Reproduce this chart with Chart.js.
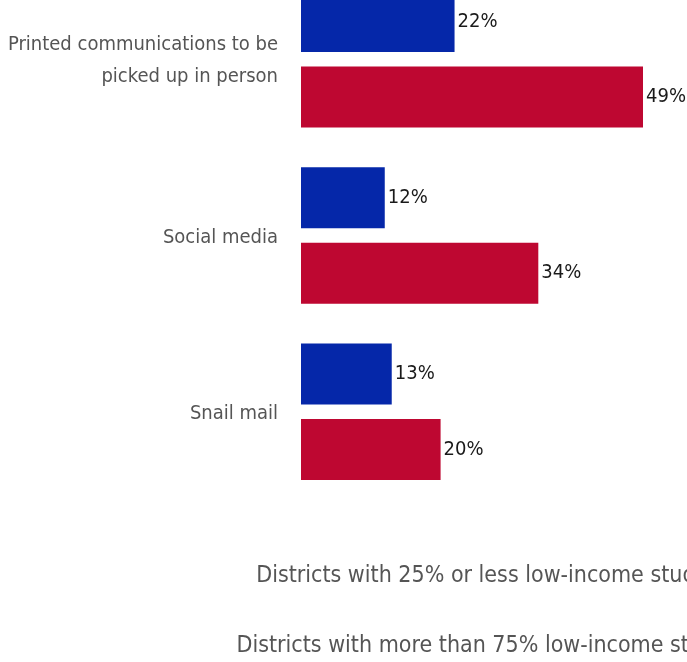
<!DOCTYPE html>
<html>
<head>
<meta charset="utf-8">
<script src="https://cdn.jsdelivr.net/npm/chart.js@4/dist/chart.umd.min.js"></script>
<style>
  html, body { margin: 0; padding: 0; background: #fff; overflow: hidden; width: 687px; height: 662px; }
  #wrap { position: absolute; left: 0; top: -40px; }
</style>
</head>
<body>
<div id="wrap"><canvas id="chart" width="985" height="708"></canvas></div>
<script>
const categories = [
  ["Printed communications to be", "picked up in person"],
  "Social media",
  "Snail mail"
];
const seriesNames = [
  "Districts with 25% or less low-income students",
  "Districts with more than 75% low-income students"
];
const lowIncome25 = [22, 12, 13];
const lowIncome75 = [49, 34, 20];

const FONT = "'Liberation Sans Narrow', 'DejaVu Sans Condensed', 'Open Sans', sans-serif";

// percentage labels just past the end of each bar
const valueLabels = {
  id: 'valueLabels',
  afterDatasetsDraw(chart) {
    const ctx = chart.ctx;
    chart.data.datasets.forEach((ds, i) => {
      chart.getDatasetMeta(i).data.forEach((bar, j) => {
        ctx.save();
        ctx.font = "20px " + FONT;
        ctx.fillStyle = '#1a1a1a';
        ctx.textAlign = 'left';
        ctx.textBaseline = 'middle';
        ctx.fillText(ds.data[j] + '%', bar.x + 3, bar.y);
        ctx.restore();
      });
    });
  }
};

new Chart(document.getElementById('chart'), {
  type: 'bar',
  data: {
    labels: categories,
    datasets: [
      { label: seriesNames[0], data: lowIncome25, backgroundColor: '#0527a9', borderWidth: 0 },
      { label: seriesNames[1], data: lowIncome75, backgroundColor: '#be0731', borderWidth: 0 }
    ]
  },
  options: {
    indexAxis: 'y',
    responsive: false,
    animation: false,
    devicePixelRatio: 1,
    categoryPercentage: 0.856,
    barPercentage: 0.808,
    layout: { padding: { top: 11, left: 0, right: 0, bottom: 0 } },
    scales: {
      x: {
        min: 0, max: 98,
        grid: { display: false },
        border: { display: false },
        ticks: { display: false },
        afterFit(s) { s.height = 18; }
      },
      y: {
        grid: { display: false, drawTicks: false },
        border: { display: false },
        ticks: {
          padding: 23,
          labelOffset: 2,
          color: '#555',
          font: { family: FONT, size: 20, lineHeight: 1.6 }
        },
        afterFit(s) {
          s.width = 301;
          s.paddingTop = 0;
          s.paddingBottom = 0;
        }
      }
    },
    plugins: {
      tooltip: { enabled: false },
      legend: {
        position: 'bottom',
        labels: {
          boxWidth: 0,
          padding: 47,
          color: '#555',
          font: { family: FONT, size: 23 }
        }
      }
    }
  },
  plugins: [valueLabels]
});
</script>
</body>
</html>
